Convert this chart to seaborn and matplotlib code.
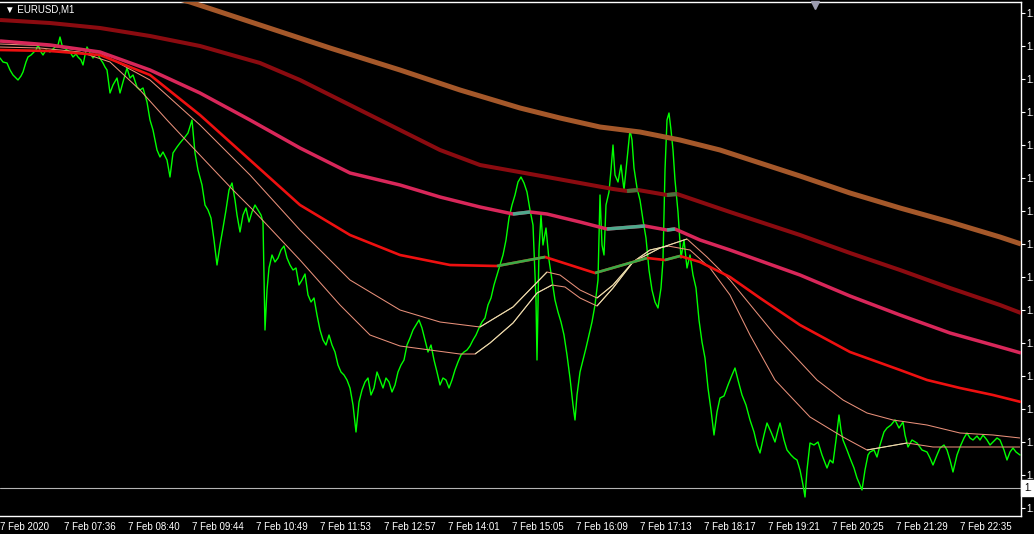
import numpy as np
import pandas as pd
import matplotlib.pyplot as plt
import seaborn as sns

# EURUSD M1 close, sampled along the trace (bar number, price)
price_bar = [0, 3, 7, 10, 13, 16, 18, 21, 23, 26, 28, 31, 33, 36, 38, 41, 43, 46, 50, 53, 55, 58, 60, 62, 63,
             67, 70, 73, 76, 78, 81, 83, 85, 87, 90, 93, 96, 98, 101, 103, 105, 107, 110, 113, 117, 120, 123,
             127, 130, 133, 137, 140, 143, 147, 148, 150, 153, 157, 160, 163, 167, 170, 173, 177, 180, 185, 188,
             192, 195, 198, 202, 205, 208, 211, 214, 217, 220, 223, 226, 229, 232, 235, 237, 240, 243, 246, 249,
             252, 255, 258, 261, 263, 265, 267, 269, 272, 275, 278, 281, 284, 287, 290, 293, 296, 299, 302, 305,
             308, 311, 314, 317, 320, 323, 326, 329, 332, 335, 338, 341, 344, 347, 350, 353, 356, 359, 362, 365,
             368, 371, 374, 377, 380, 383, 386, 389, 392, 395, 398, 401, 404, 407, 410, 413, 416, 419, 422, 425,
             428, 431, 434, 437, 440, 443, 446, 449, 452, 455, 458, 461, 464, 467, 470, 473, 476, 479, 482, 485,
             488, 491, 494, 497, 500, 503, 506, 509, 512, 515, 518, 521, 524, 527, 530, 533, 536, 537, 539, 541,
             543, 546, 549, 552, 555, 558, 561, 564, 567, 570, 573, 575, 577, 580, 583, 586, 589, 592, 595, 598,
             600, 602, 604, 606, 609, 611, 613, 615, 618, 621, 624, 627, 630, 632, 634, 637, 640, 643, 646, 649,
             652, 655, 658, 661, 663, 665, 667, 669, 671, 673, 675, 678, 681, 684, 687, 690, 693, 696, 699, 702,
             705, 708, 711, 714, 717, 720, 724, 728, 732, 735, 738, 742, 746, 750, 754, 757, 760, 764, 767, 771,
             775, 778, 780, 784, 787, 791, 794, 797, 800, 803, 805, 807, 810, 814, 818, 822, 827, 830, 833, 836,
             839, 841, 843, 847, 850, 854, 857, 860, 862, 865, 868, 870, 874, 877, 880, 884, 887, 891, 895, 899,
             903, 905, 908, 912, 917, 922, 927, 930, 933, 937, 940, 944, 947, 950, 953, 957, 960, 964, 967, 970,
             973, 977, 980, 983, 987, 990, 993, 997, 1000, 1004, 1007, 1010, 1013, 1016, 1020]
price_close = [1.09850, 1.09846, 1.09845, 1.09838, 1.09833, 1.09830, 1.09828, 1.09832, 1.09836, 1.09846, 1.09851,
               1.09853, 1.09855, 1.09858, 1.09863, 1.09856, 1.09853, 1.09858, 1.09856, 1.09859, 1.09861, 1.09863,
               1.09871, 1.09863, 1.09861, 1.09858, 1.09856, 1.09851, 1.09854, 1.09851, 1.09848, 1.09843, 1.09853,
               1.09861, 1.09855, 1.09850, 1.09854, 1.09853, 1.09848, 1.09845, 1.09841, 1.09838, 1.09815, 1.09823,
               1.09830, 1.09815, 1.09826, 1.09840, 1.09830, 1.09833, 1.09821, 1.09818, 1.09820, 1.09806, 1.09800,
               1.09788, 1.09778, 1.09758, 1.09751, 1.09756, 1.09748, 1.09731, 1.09755, 1.09761, 1.09765, 1.09771,
               1.09775, 1.09788, 1.09755, 1.09738, 1.09723, 1.09703, 1.09698, 1.09690, 1.09668, 1.09643, 1.09663,
               1.09680, 1.09698, 1.09718, 1.09725, 1.09708, 1.09693, 1.09676, 1.09693, 1.09700, 1.09686, 1.09696,
               1.09703, 1.09698, 1.09693, 1.09686, 1.09578, 1.09618, 1.09640, 1.09653, 1.09646, 1.09650, 1.09658,
               1.09662, 1.09650, 1.09643, 1.09638, 1.09640, 1.09623, 1.09628, 1.09634, 1.09613, 1.09606, 1.09610,
               1.09593, 1.09578, 1.09568, 1.09563, 1.09573, 1.09563, 1.09556, 1.09543, 1.09536, 1.09533, 1.09528,
               1.09520, 1.09503, 1.09476, 1.09506, 1.09518, 1.09526, 1.09530, 1.09513, 1.09520, 1.09536, 1.09528,
               1.09520, 1.09530, 1.09526, 1.09516, 1.09523, 1.09536, 1.09543, 1.09548, 1.09563, 1.09570, 1.09578,
               1.09583, 1.09588, 1.09580, 1.09568, 1.09556, 1.09563, 1.09548, 1.09536, 1.09523, 1.09530, 1.09528,
               1.09520, 1.09528, 1.09538, 1.09546, 1.09553, 1.09556, 1.09558, 1.09562, 1.09568, 1.09573, 1.09580,
               1.09586, 1.09590, 1.09603, 1.09610, 1.09623, 1.09633, 1.09643, 1.09653, 1.09668, 1.09690, 1.09703,
               1.09713, 1.09726, 1.09731, 1.09725, 1.09716, 1.09698, 1.09683, 1.09608, 1.09548, 1.09658, 1.09693,
               1.09663, 1.09680, 1.09648, 1.09628, 1.09608, 1.09596, 1.09586, 1.09573, 1.09553, 1.09530, 1.09503,
               1.09488, 1.09513, 1.09536, 1.09548, 1.09560, 1.09573, 1.09586, 1.09603, 1.09628, 1.09713, 1.09663,
               1.09653, 1.09703, 1.09716, 1.09738, 1.09763, 1.09733, 1.09726, 1.09743, 1.09718, 1.09748, 1.09778,
               1.09768, 1.09740, 1.09720, 1.09708, 1.09688, 1.09670, 1.09638, 1.09618, 1.09606, 1.09600, 1.09620,
               1.09648, 1.09738, 1.09788, 1.09795, 1.09778, 1.09758, 1.09728, 1.09696, 1.09650, 1.09668, 1.09640,
               1.09653, 1.09633, 1.09620, 1.09588, 1.09566, 1.09550, 1.09520, 1.09498, 1.09473, 1.09496, 1.09510,
               1.09512, 1.09523, 1.09533, 1.09540, 1.09528, 1.09513, 1.09503, 1.09488, 1.09476, 1.09463, 1.09455,
               1.09473, 1.09485, 1.09476, 1.09466, 1.09478, 1.09485, 1.09468, 1.09458, 1.09453, 1.09450, 1.09448,
               1.09438, 1.09423, 1.09411, 1.09438, 1.09465, 1.09463, 1.09466, 1.09453, 1.09440, 1.09448, 1.09445,
               1.09468, 1.09493, 1.09478, 1.09468, 1.09458, 1.09450, 1.09440, 1.09430, 1.09423, 1.09418, 1.09438,
               1.09453, 1.09456, 1.09458, 1.09451, 1.09463, 1.09476, 1.09480, 1.09483, 1.09488, 1.09480, 1.09486,
               1.09473, 1.09461, 1.09468, 1.09465, 1.09458, 1.09456, 1.09450, 1.09443, 1.09453, 1.09460, 1.09463,
               1.09458, 1.09448, 1.09436, 1.09453, 1.09461, 1.09470, 1.09475, 1.09470, 1.09468, 1.09472, 1.09468,
               1.09473, 1.09468, 1.09463, 1.09466, 1.09470, 1.09468, 1.09458, 1.09448, 1.09456, 1.09460, 1.09456,
               1.09453]

# moving averages (bar number, value)
brown_bar = [0, 95, 190, 260, 330, 400, 460, 520, 560, 600, 640, 680, 720, 760, 800, 850, 900, 950, 1000, 1021]
brown_ma = [1.09960, 1.09933, 1.09906, 1.09883, 1.09860, 1.09838, 1.09818, 1.09800, 1.09790, 1.09781, 1.09776,
            1.09768, 1.09758, 1.09745, 1.09732, 1.09715, 1.09700, 1.09686, 1.09671, 1.09664]

darkred_bar = [0, 50, 100, 150, 200, 260, 300, 350, 400, 440, 480, 547, 613, 627, 638, 667, 677, 730, 800, 850,
               900, 950, 1000, 1021]
darkred_ma = [1.09888, 1.09885, 1.09880, 1.09872, 1.09862, 1.09845, 1.09828, 1.09803, 1.09778, 1.09758, 1.09743,
              1.09731, 1.09719, 1.09717, 1.09718, 1.09713, 1.09714, 1.09696, 1.09673, 1.09655, 1.09638, 1.09620,
              1.09603, 1.09595]

crimson_bar = [0, 50, 100, 150, 200, 250, 300, 350, 400, 440, 480, 513, 530, 547, 580, 607, 645, 667, 675, 700,
               730, 800, 850, 900, 950, 1000, 1021]
crimson_ma = [1.09867, 1.09863, 1.09856, 1.09838, 1.09815, 1.09788, 1.09760, 1.09735, 1.09723, 1.09711, 1.09701,
              1.09694, 1.09696, 1.09694, 1.09686, 1.09679, 1.09682, 1.09678, 1.09679, 1.09668, 1.09658, 1.09633,
              1.09612, 1.09593, 1.09575, 1.09561, 1.09555]

red_bar = [0, 50, 100, 150, 200, 250, 300, 350, 400, 450, 497, 545, 595, 647, 665, 680, 700, 730, 760, 800, 850,
           900, 927, 960, 993, 1021]
red_ma = [1.09858, 1.09857, 1.09853, 1.09833, 1.09793, 1.09748, 1.09703, 1.09673, 1.09653, 1.09643, 1.09642,
          1.09651, 1.09635, 1.09650, 1.09648, 1.09652, 1.09646, 1.09631, 1.09610, 1.09583, 1.09556, 1.09538,
          1.09528, 1.09520, 1.09513, 1.09506]

slow_bar = [0, 50, 100, 150, 200, 250, 300, 350, 400, 440, 480, 513, 547, 560, 580, 597, 613, 633, 660, 687, 707,
            730, 775, 817, 843, 867, 893, 927, 960, 993, 1020]
slow_ma = [1.09864, 1.09862, 1.09855, 1.09828, 1.09783, 1.09733, 1.09678, 1.09628, 1.09598, 1.09586, 1.09581,
           1.09601, 1.09636, 1.09633, 1.09618, 1.09610, 1.09623, 1.09646, 1.09660, 1.09669, 1.09651, 1.09628,
           1.09573, 1.09528, 1.09508, 1.09495, 1.09488, 1.09483, 1.09475, 1.09473, 1.09470]

fast_bar = [0, 40, 80, 110, 140, 167, 197, 233, 253, 300, 340, 370, 400, 430, 460, 475, 490, 513, 537, 552, 565,
            580, 597, 613, 633, 650, 668, 690, 710, 730, 750, 775, 810, 843, 867, 907, 933, 960, 1020]
fast_ma = [1.09861, 1.09860, 1.09856, 1.09846, 1.09818, 1.09788, 1.09756, 1.09718, 1.09698, 1.09648, 1.09603,
           1.09573, 1.09562, 1.09558, 1.09554, 1.09554, 1.09565, 1.09585, 1.09615, 1.09623, 1.09621, 1.09610,
           1.09602, 1.09620, 1.09646, 1.09658, 1.09662, 1.09658, 1.09640, 1.09613, 1.09573, 1.09528, 1.09491,
           1.09471, 1.09458, 1.09465, 1.09461, 1.09461, 1.09461]

time_labels = ['7 Feb 2020', '7 Feb 07:36', '7 Feb 08:40', '7 Feb 09:44', '7 Feb 10:49', '7 Feb 11:53',
               '7 Feb 12:57', '7 Feb 14:01', '7 Feb 15:05', '7 Feb 16:09', '7 Feb 17:13', '7 Feb 18:17',
               '7 Feb 19:21', '7 Feb 20:25', '7 Feb 21:29', '7 Feb 22:35']
price_labels = ['1.'] * 16  # the price scale shows only the leading "1." at this width
bid_price = 1.09420
bid_label = '1.'
symbol_label = '\u25bc EURUSD,M1'

sns.set_theme(style='dark', rc={'axes.facecolor': 'black', 'figure.facecolor': 'black',
                                'axes.edgecolor': 'white', 'text.color': 'white',
                                'xtick.color': 'white', 'ytick.color': 'white'})
plt.rcParams['font.family'] = ['Liberation Sans', 'DejaVu Sans']

fig = plt.figure(figsize=(10.34, 5.34), dpi=100)
ax = fig.add_axes([0, 18.5 / 534, 1021 / 1034, 513.5 / 534])

# bid line
ax.axhline(bid_price, color='#b4b4b4', lw=0.8, zorder=1)

price_df = pd.DataFrame({'bar': price_bar, 'close': price_close})
sns.lineplot(data=price_df, x='bar', y='close', color='#00ff00', lw=1.0, ax=ax, zorder=2)


def draw_ma(bars, vals, down_col, up_col, lw, z):
    df = pd.DataFrame({'bar': bars, 'ma': vals})
    sns.lineplot(data=df, x='bar', y='ma', color=down_col, lw=lw, ax=ax, zorder=z,
                 solid_capstyle='butt')
    # rising stretches are painted in the indicator's up colour
    for i in range(len(bars) - 1):
        if vals[i + 1] > vals[i]:
            ax.plot(bars[i:i + 2], vals[i:i + 2], color=up_col, lw=lw, zorder=z + 0.1,
                    solid_capstyle='butt')


draw_ma(fast_bar, fast_ma, '#e8907a', '#e4e4b0', 0.75, 3)
draw_ma(slow_bar, slow_ma, '#e8907a', '#e4e4b0', 0.75, 3)
draw_ma(red_bar, red_ma, '#ee1010', '#3caa46', 1.9, 4)
draw_ma(crimson_bar, crimson_ma, '#d8275a', '#4fa88c', 2.5, 5)
draw_ma(darkred_bar, darkred_ma, '#8b0b10', '#4b6e3c', 2.9, 6)
draw_ma(brown_bar, brown_ma, '#a5582a', '#7a7040', 3.6, 7)

ax.set_xlim(0, 1021)
ax.set_ylim(1.093925, 1.09906)
ax.set_xlabel('')
ax.set_ylabel('')

ax.set_xticks(np.arange(0, 1024, 64))
ax.set_xticklabels(time_labels, ha='left')
ax.yaxis.tick_right()
ax.set_yticks(np.arange(0, 16) * 0.00033 + 1.09400)
ax.set_yticklabels(price_labels)
ax.tick_params(axis='x', direction='out', length=3.5, width=0.8, labelsize=7,
               colors='white', pad=1.5)
ax.tick_params(axis='y', direction='out', length=3, width=0.8, labelsize=7,
               colors='white', pad=1)

for side in ['top', 'right', 'bottom']:
    ax.spines[side].set_color('white')
    ax.spines[side].set_linewidth(1.0)
ax.spines['left'].set_visible(False)

# current bid label box
ax.text(1.003, bid_price, bid_label, transform=ax.get_yaxis_transform(),
        color='black', fontsize=7, va='center', ha='left', clip_on=False,
        bbox=dict(boxstyle='square,pad=0.3', fc='white', ec='white'))

# chart shift marker
ax.plot([815 / 1021], [0.995], marker='v', ms=6, color='#9c9cb0', transform=ax.transAxes,
        clip_on=False, zorder=10)

fig.text(5 / 1034, 1 - 10 / 534, symbol_label, color='white', fontsize=7, va='center', ha='left')

fig.savefig('out.png', dpi=100, facecolor='black')
